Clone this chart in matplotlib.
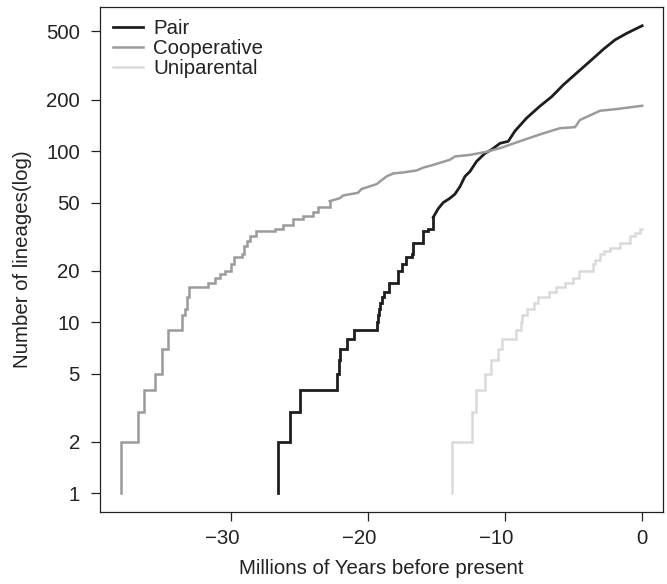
import matplotlib
matplotlib.use("Agg")
import matplotlib.pyplot as plt
from matplotlib.transforms import ScaledTranslation

# lineage-through-time curves (time in Myr, lineage count)
pair_t = [-26.55, -26.55, -25.69, -24.91, -22.21, -22.12, -22.04, -21.55, -21.02,
          -19.32, -19.25, -19.2, -19.1, -18.95, -18.83, -18.44, -17.79, -17.54,
          -17.18, -16.81, -16.7, -15.96, -15.6, -15.23, -14.87, -14.5, -14.01,
          -13.65, -13.28, -12.92, -12.55, -12.07, -11.46, -10.97, -10.36, -9.76,
          -9.27, -8.42, -7.45, -6.59, -5.74, -4.77, -3.8, -2.82, -1.97, -1.12, 0.0]
pair_n = [1, 2, 3, 4, 5, 6, 7, 8, 9,
          10, 11, 12, 13, 14, 15, 17, 20, 22,
          24, 25, 29, 34, 35, 41, 46, 50, 53,
          56, 62, 71, 76, 87, 97, 102, 111, 114,
          131, 156, 183, 208, 244, 286, 335, 394, 447, 488, 540]

coop_t = [-38.0, -38.0, -36.77, -36.28, -35.5, -35.01, -34.53, -33.53, -33.35,
          -33.2, -33.0, -31.66, -31.17, -30.8, -30.44, -29.95, -29.75, -29.15,
          -29.0, -28.8, -28.61, -28.13, -26.79, -26.18, -25.45, -24.72, -23.99,
          -23.62, -22.77, -22.04, -21.8, -20.71, -20.46, -19.37, -18.64, -18.15,
          -17.42, -16.45, -15.96, -15.23, -14.01, -13.65, -12.55, -11.34, -10.36,
          -8.66, -7.2, -5.99, -4.89, -4.53, -3.07, -1.85, 0.0]
coop_n = [1, 2, 3, 4, 5, 7, 9, 11, 12,
          14, 16, 17, 18, 19, 20, 22, 24, 25,
          28, 30, 32, 34, 35, 37, 40, 42, 44,
          47, 51, 53, 55, 57, 60, 64, 71, 74,
          75, 77, 80, 83, 89, 93, 95, 99, 104,
          116, 127, 136, 138, 152, 172, 176, 184]

uni_t = [-13.85, -13.85, -12.39, -12.14, -11.46, -11.04, -10.49, -10.19, -9.2,
         -8.83, -8.75, -8.37, -7.86, -7.61, -6.77, -6.28, -5.62, -5.01, -4.62,
         -4.57, -3.55, -3.45, -3.07, -2.8, -2.34, -1.61, -0.88, -0.5, -0.15, 0.0]
uni_n = [1, 2, 3, 4, 5, 6, 7, 8, 9,
         10, 11, 12, 13, 14, 15, 16, 17, 18, 19,
         20, 22, 23, 25, 26, 27, 29, 32, 33, 35, 35]

x_ticks = [-30, -20, -10, 0]
y_ticks = [1, 2, 5, 10, 20, 50, 100, 200, 500]

plt.rcParams["font.family"] = ["Liberation Sans", "DejaVu Sans"]
plt.rcParams["axes.unicode_minus"] = True

fig = plt.figure(figsize=(6.67, 5.84), dpi=100)
ax = fig.add_axes([100 / 667, 72 / 584, 563 / 667, 505 / 584])

ink = "#222222"
fs = 14.7


def ltt(t, n, color, label, dense_from, lw=1.8):
    # single-lineage steps are drawn as stairs, the crowded late part as a line
    k = next((i for i, v in enumerate(n) if v > dense_from), len(n))
    ax.plot(t[:k + 1], n[:k + 1], drawstyle="steps-post", color=color, lw=lw,
            label=label, solid_joinstyle="miter")
    if k < len(n) - 1:
        ax.plot(t[k:], n[k:], color=color, lw=lw)


ltt(pair_t, pair_n, "#1e1e1e", "Pair", 35, lw=2.0)
ltt(coop_t, coop_n, "#9b9b9b", "Cooperative", 47)
ltt(uni_t, uni_n, "#dadada", "Uniparental", 1000)

ax.set_yscale("log")
ax.set_xlim(-39.52, 1.52)
ax.set_ylim(0.777, 695)

ax.set_xticks(x_ticks)
ax.set_xticklabels(["\u2212" + str(-v) if v < 0 else str(v) for v in x_ticks])
ax.set_yticks(y_ticks)
ax.set_yticklabels([str(v) for v in y_ticks])
ax.minorticks_off()
ax.tick_params(axis="both", length=6.5, width=0.9, color=ink, labelcolor=ink,
               labelsize=fs)
ax.tick_params(axis="x", pad=5.5)
ax.tick_params(axis="y", pad=8)

# negative labels sit a little left of their ticks in the original
shift = ScaledTranslation(-8.5 / 100, 0, fig.dpi_scale_trans)
for v, lab in zip(x_ticks, ax.get_xticklabels()):
    if v < 0:
        lab.set_transform(lab.get_transform() + shift)

for s in ax.spines.values():
    s.set_color(ink)
    s.set_linewidth(0.9)

ax.set_xlabel("Millions of Years before present", fontsize=fs, color=ink, labelpad=8)
ax.set_ylabel("Number of lineages(log)", fontsize=fs, color=ink, labelpad=10)

ax.legend(loc="upper left", bbox_to_anchor=(0.023, 0.976), borderaxespad=0,
          borderpad=0, frameon=False, handlelength=1.47, handletextpad=0.5,
          labelspacing=0.05, fontsize=fs, labelcolor=ink)

fig.savefig("out.png", dpi=100)
